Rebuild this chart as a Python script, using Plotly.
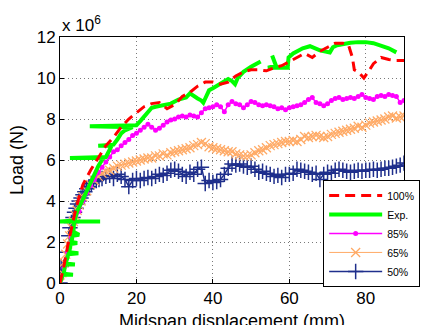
import plotly.graph_objects as go

# ---------------- data (load in units of 1e6 N) ----------------
x100 = [0, 1, 2, 3, 4, 5, 6, 8, 10, 12, 14, 16, 18, 20, 22, 24, 26, 28, 30, 32, 34, 36, 38, 40,
        42, 44, 46, 48, 50, 52, 54, 56, 58, 60, 62, 64, 66, 68, 70, 72, 74, 75.5, 76.5, 77, 78,
        79.5, 81, 82, 84, 86, 88, 90]
y100 = [0, 0.8, 1.8, 2.7, 3.5, 4.2, 4.8, 5.5, 6.1, 6.7, 7.1, 7.6, 8.0, 8.3, 8.6, 8.75, 8.8, 8.5,
        8.7, 9.1, 9.3, 9.6, 9.8, 9.8, 9.7, 9.8, 10.1, 10.3, 10.4, 10.4, 10.35, 10.5, 10.6, 10.8,
        11.0, 11.2, 11.0, 11.3, 11.5, 11.7, 11.7, 11.6, 11.0, 10.4, 10.3, 10.0, 10.4, 10.7, 11.0,
        10.9, 10.85, 10.85]

xexp = [0, 0.8, 3.4, 1.0, 1.3, 3.9, 1.5, 2.2, 4.8, 2.4, 2.8, 4.5, 3.0, 3.3, 5.0, 3.5, 3.7, 10.5,
        0.0, 3.8, 4.5, 5.8, 7, 8, 9, 10, 11, 11.5, 2.6, 12, 13, 13.5, 10, 14, 15, 16, 17, 18, 19,
        7.8, 20, 21, 22, 23, 24, 25, 27, 29, 31, 33, 34, 35, 36, 37, 37.5, 38, 39, 40, 42, 44, 45,
        45.8, 46.5, 48, 50, 52, 52.5, 53.5,
        55.5, 56.5, 54.4, 59.6, 59.6, 59.8, 61, 62, 63.5, 65.4, 66.7, 68, 70.6, 71.4, 72.5, 74, 76,
        78, 80, 82, 84, 86, 88]
yexp = [0, 0.4, 0.4, 0.45, 0.9, 0.9, 0.95, 1.4, 1.45, 1.5, 1.9, 1.95, 2.0, 2.3, 2.35, 2.5, 3.0,
        3.0, 3.0, 3.05, 3.5, 4.0, 4.5, 4.9, 5.3, 5.7, 6.0, 6.1, 6.1, 6.15, 6.5, 6.7, 6.7, 6.75, 7.0,
        7.3, 7.45, 7.55, 7.6, 7.65, 7.7, 7.9, 8.1, 8.3, 8.55, 8.6, 8.7, 8.75, 8.95, 9.05, 9.25, 9.1,
        9.0, 8.9, 8.8, 9.0, 9.4, 9.5, 9.75, 9.95, 9.85, 9.7, 10.0, 10.3, 10.55, 10.75, 10.8, None,
        11.1, 10.6, 10.5, 10.5, 10.6, 11.0, 11.2, 11.3, 11.45, 11.55, 11.45, 11.35, 11.25, 11.5,
        11.6, 11.67, 11.72, 11.75, 11.75, 11.7, 11.6, 11.45, 11.25]

x85 = list(range(0, 91))
y85 = [0, 0.75, 1.5, 2.25, 3.0, 3.5, 4.0, 4.4, 4.75, 5.05, 5.4, 5.65, 5.9, 6.15, 6.4, 6.5, 6.7,
       6.85, 7.0, 7.2, 7.3, 7.45, 7.6, 7.75, 7.6, 7.45, 7.55, 7.7, 7.85, 7.95, 8.0, 8.1, 8.15,
       8.1, 8.2, 8.15, 8.1, 8.3, 8.5, 8.55, 8.6, 8.7, 8.6, 8.35, 8.7, 8.85, 8.75, 8.7, 8.55, 8.7,
       8.85, 8.8, 8.7, 8.65, 8.7, 8.65, 8.6, 8.5, 8.55, 8.45, 8.55, 8.6, 8.65, 8.7, 8.8, 8.95,
       9.05, 8.8, 8.75, 8.65, 8.75, 8.9, 9.0, 9.05, 8.95, 9.0, 9.05, 9.0, 9.1, 9.2, 9.05, 9.0,
       8.95, 9.1, 9.15, 9.1, 9.2, 9.15, 9.1, 8.8, 8.9]

x65 = [0, 0.5, 1, 1.5, 2, 2.5, 3, 3.5, 4, 4.5, 5, 5.5, 6, 7, 8, 9] + list(range(10, 91))
y65 = [0, 0.5, 1.0, 1.4, 1.9, 2.3, 2.7, 3.0, 3.3, 3.55, 3.8, 4.0, 4.2, 4.5, 4.8, 5.0,
       5.2, 5.35, 5.45, 5.5, 5.6, 5.7, 5.75, 5.8, 5.85, 5.9, 5.95, 6.0, 6.05, 6.1, 6.1, 6.2,
       6.2, 6.3, 6.25, 6.35, 6.4, 6.45, 6.5, 6.55, 6.6, 6.7, 6.75, 6.85, 6.8, 6.65, 6.6, 6.55,
       6.5, 6.45, 6.4, 6.4, 6.3, 6.25, 6.2, 6.2, 6.25, 6.35, 6.45, 6.5, 6.6, 6.7, 6.75, 6.8,
       6.85, 6.9, 6.9, 6.95, 6.9, 7.0, 7.15, 7.1, 7.15, 7.2, 7.15, 7.1, 7.15, 7.25, 7.3, 7.35,
       7.4, 7.45, 7.5, 7.55, 7.65, 7.6, 7.7, 7.8, 7.85, 7.9, 7.95, 8.0, 8.1, 8.15, 8.05, 8.1, 8.15]

x50 = [0, 0.3, 2.0, 2.3, 2.6, 3.0, 3.4, 3.8, 4.2, 4.6, 5.0, 5.5, 6.0, 6.5, 7.0, 7.6, 8.2, 8.8,
       9.5, 10.2] + list(range(11, 91))
y50 = [0, 0.8, 1.5, 2.3, 2.7, 2.95, 3.2, 3.45, 3.65, 3.85, 4.0, 4.15, 4.3, 4.45, 4.6, 4.7, 4.85,
       4.95, 5.0, 5.05,
       5.1, 5.2, 5.25, 5.1, 5.3, 5.2, 5.05, 4.7, 5.0, 5.1, 5.0, 5.1, 5.15, 5.1, 5.2, 5.3, 5.25,
       5.35, 5.5, 5.55, 5.45, 5.3, 5.2, 5.4, 5.3, 5.55, 5.65, 4.85, 5.0, 4.9, 4.95, 5.05, 5.3,
       5.6, 5.8, 5.75, 5.8, 5.7, 5.65, 5.7, 5.55, 5.4, 5.45, 5.35, 5.3, 5.2, 5.25, 5.15, 5.3,
       5.3, 5.35, 5.55, 5.5, 5.45, 5.4, 5.3, 5.35, 5.05, 5.3, 5.4, 5.35, 5.5, 5.55, 5.5, 5.45,
       5.4, 5.45, 5.5, 5.45, 5.5, 5.5, 5.55, 5.5, 5.55, 5.6, 5.6, 5.65, 5.7, 5.75, 5.85]

names = ["100%", "Exp.", "85%", "65%", "50%"]
colors = ["#ff0000", "#00ff00", "#ff00ff", "#ffaa66", "#1f2f8c"]

fig = go.Figure()
fig.add_trace(go.Scatter(x=x50, y=y50, name=names[4], mode="lines+markers",
                         line=dict(color=colors[4], width=1.5),
                         marker=dict(symbol="cross-thin", size=11,
                                     line=dict(color=colors[4], width=1.5))))
fig.add_trace(go.Scatter(x=x65, y=y65, name=names[3], mode="lines+markers",
                         line=dict(color=colors[3], width=1),
                         marker=dict(symbol="x-thin", size=9,
                                     line=dict(color=colors[3], width=1.3))))
fig.add_trace(go.Scatter(x=x85, y=y85, name=names[2], mode="lines+markers",
                         line=dict(color=colors[2], width=1.5),
                         marker=dict(symbol="circle", size=5, color=colors[2])))
fig.add_trace(go.Scatter(x=xexp, y=yexp, name=names[1], mode="lines",
                         line=dict(color=colors[1], width=4), connectgaps=False))
fig.add_trace(go.Scatter(x=x100, y=y100, name=names[0], mode="lines",
                         line=dict(color=colors[0], width=3, dash="10px,6px")))

axis_common = dict(
    showgrid=True, gridcolor="#7a7a7a", griddash="1px,3px", gridwidth=1,
    showline=True, linecolor="black", linewidth=1, mirror=True,
    ticks="inside", ticklen=4, tickcolor="black", zeroline=False, automargin=False,
    tickfont=dict(family="Liberation Sans, Arial", size=17, color="black"),
)

fig.update_layout(
    width=422, height=325,
    margin=dict(l=60, r=18, t=37, b=42, autoexpand=False),
    paper_bgcolor="white", plot_bgcolor="white",
    font=dict(family="Liberation Sans, Arial", color="black"),
    xaxis=dict(range=[0, 90], tickvals=[0, 20, 40, 60, 80], **axis_common),
    yaxis=dict(range=[0, 12], tickvals=[0, 2, 4, 6, 8, 10, 12], **axis_common),
    legend=dict(x=0.765, y=0.419, xanchor="left", yanchor="top",
                bgcolor="white", bordercolor="black", borderwidth=1,
                font=dict(size=10.5, color="black"), traceorder="reversed",
                itemwidth=53, tracegroupgap=0),
    showlegend=True,
    annotations=[
        dict(text="x 10<sup>6</sup>", xref="paper", yref="paper", x=0, y=1.0,
             xanchor="left", yanchor="bottom", showarrow=False, font=dict(size=17)),
        dict(text="Load (N)", xref="paper", yref="paper", x=-0.125, y=0.5,
             textangle=-90, xanchor="center", yanchor="middle", showarrow=False,
             font=dict(size=18)),
        dict(text="Midspan displacement (mm)", xref="paper", yref="paper", x=0.5, y=-0.105,
             xanchor="center", yanchor="top", showarrow=False, font=dict(size=18)),
    ],
)

fig.write_html("out.html", config={"displayModeBar": False},
               post_script="document.body.style.margin='0';document.body.style.overflow='hidden';")
